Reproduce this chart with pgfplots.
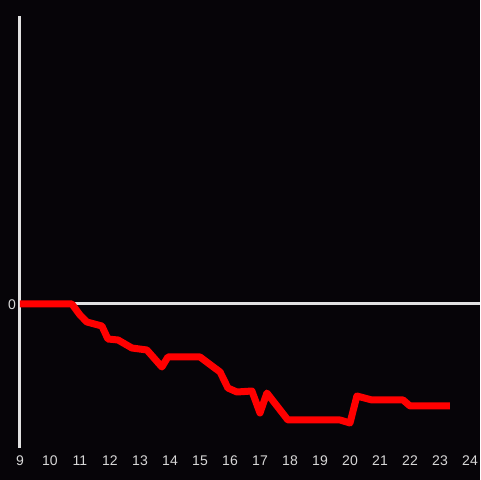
\documentclass[border=0pt]{standalone}
\usepackage{fontspec}
\setmainfont{Liberation Sans}
\usepackage{pgfplots}
\pgfplotsset{compat=1.18}
\definecolor{bg}{RGB}{6,4,8}
\definecolor{ax}{RGB}{225,225,225}
\definecolor{lab}{RGB}{215,215,215}
\begin{document}
\begin{tikzpicture}[x=0.75pt,y=0.75pt]
\fill[bg] (-20,-32) rectangle (460,448);
\begin{axis}[
  at={(0,0)}, anchor=south west,
  scale only axis,
  width=345pt, height=324pt,
  xmin=9, xmax=24.333, ymin=-144, ymax=288,
  axis x line=bottom, axis y line=left,
  x axis line style={draw=none, -},
  y axis line style={draw=ax, line width=2.25pt, -},
  xtick={9,...,24}, ytick={0},
  major tick length=0pt,
  ymajorgrids, major grid style={draw=ax, line width=2.25pt},
  tick label style={font=\fontsize{10.5}{12}\selectfont, text=lab},
  /pgf/number format/assume math mode=true,
  xticklabel style={yshift=-2.5pt},
  yticklabel style={xshift=0.5pt, yshift=-0.5pt},
  clip=false,
]
\addplot[color=red, line width=5.25pt, line join=round] coordinates {
(9,0) (10.73,0) (11.0,-11) (11.23,-18) (11.73,-22) (11.93,-35) (12.27,-36)
(12.73,-44) (13.23,-46) (13.73,-63) (13.93,-53) (15.0,-53) (15.67,-68)
(15.93,-84) (16.23,-88) (16.73,-87) (17.0,-109) (17.23,-89) (17.93,-116)
(19.67,-116) (20.0,-119) (20.23,-92) (20.73,-96) (21.77,-96) (22.0,-102)
(23.33,-102)
};
\end{axis}
\pgfresetboundingbox
\path (-20,-32) rectangle (460,448);
\end{tikzpicture}
\end{document}
